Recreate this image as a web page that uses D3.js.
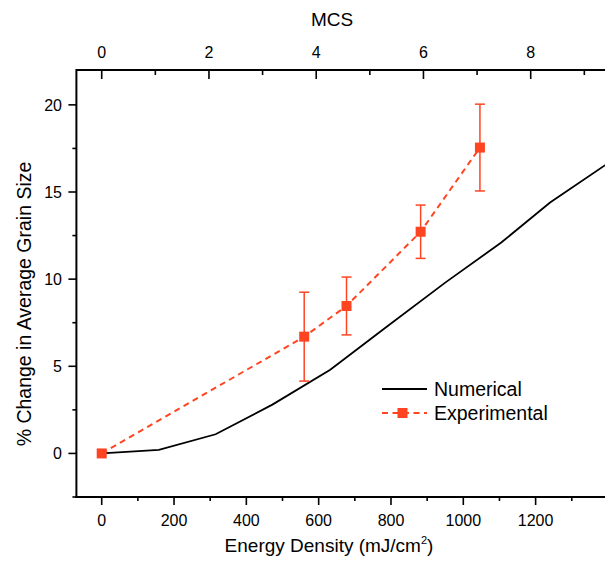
<!DOCTYPE html>
<html>
<head>
<meta charset="utf-8">
<script src="https://cdn.jsdelivr.net/npm/d3@7"></script>
<style>
  body { margin: 0; background: #fff; }
  svg { display: block; font-family: "Liberation Sans", Arial, sans-serif; }
</style>
</head>
<body>
<svg id="chart" width="605" height="566"></svg>
<script>
// Numerical simulation curve
const numEnergy = [0, 158, 315, 472, 632, 790, 950, 1105, 1240, 1400];
const numChange = [0, 0.2, 1.1, 2.8, 4.8, 7.3, 9.8, 12.1, 14.4, 16.65];

// Experimental points with error bars
const expEnergy = [0, 560, 677, 882, 1046];
const expChange = [0, 6.7, 8.46, 12.72, 17.55];
const expError = [0, 2.55, 1.66, 1.53, 2.49];

const xTicks = [0, 200, 400, 600, 800, 1000, 1200];
const mcsTicks = [0, 2, 4, 6, 8];
const yTicks = [0, 5, 10, 15, 20];
const energyPerMcs = 148.3;

const orange = "#ff4422";
const svg = d3.select("#chart");

const x = d3.scaleLinear().domain([-70, 1450]).range([76.4, 101.7 + 0.3616 * 1450]);
const xMcs = d3.scaleLinear()
    .domain(x.domain().map(d => d / energyPerMcs))
    .range(x.range());
const y = d3.scaleLinear().domain([-2.5, 22]).range([497, 70]);

const [plotLeft, plotRight] = x.range();
const [plotBottom, plotTop] = y.range();

// frame lines
svg.append("line").attr("x1", plotLeft).attr("x2", plotRight).attr("y1", plotTop).attr("y2", plotTop)
    .attr("stroke", "#000").attr("stroke-width", 2);
svg.append("line").attr("x1", plotLeft - 1).attr("x2", plotRight).attr("y1", plotBottom).attr("y2", plotBottom)
    .attr("stroke", "#000").attr("stroke-width", 2);
svg.append("line").attr("x1", plotLeft).attr("x2", plotLeft).attr("y1", plotTop - 1).attr("y2", plotBottom + 1)
    .attr("stroke", "#000").attr("stroke-width", 2);

// bottom axis ticks (outward)
const xMinor = d3.range(100, 1450, 200);
svg.append("g").selectAll("line")
    .data(xTicks.map(v => ({v, len: 8})).concat(xMinor.map(v => ({v, len: 4}))))
    .join("line")
    .attr("x1", d => x(d.v)).attr("x2", d => x(d.v))
    .attr("y1", plotBottom).attr("y2", d => plotBottom + d.len)
    .attr("stroke", "#000").attr("stroke-width", 1.6);
svg.append("g").selectAll("text")
    .data(xTicks)
    .join("text")
    .attr("x", d => x(d)).attr("y", 525.5)
    .attr("text-anchor", "middle")
    .attr("font-size", "16px")
    .text(d => d);

// top axis (MCS), ticks inward
const mcsMinor = [1, 3, 5, 7, 9];
svg.append("g").selectAll("line")
    .data(mcsTicks.map(v => ({v, len: 9})).concat(mcsMinor.map(v => ({v, len: 5}))))
    .join("line")
    .attr("x1", d => xMcs(d.v)).attr("x2", d => xMcs(d.v))
    .attr("y1", plotTop).attr("y2", d => plotTop + d.len)
    .attr("stroke", "#000").attr("stroke-width", 1.6);
svg.append("g").selectAll("text")
    .data(mcsTicks)
    .join("text")
    .attr("x", d => xMcs(d)).attr("y", 58)
    .attr("text-anchor", "middle")
    .attr("font-size", "16px")
    .text(d => d);

// left axis ticks (outward)
const yMinor = [-2.5, 2.5, 7.5, 12.5, 17.5];
svg.append("g").selectAll("line")
    .data(yTicks.map(v => ({v, len: 8})).concat(yMinor.map(v => ({v, len: 4}))))
    .join("line")
    .attr("x1", plotLeft).attr("x2", d => plotLeft - d.len)
    .attr("y1", d => y(d.v)).attr("y2", d => y(d.v))
    .attr("stroke", "#000").attr("stroke-width", 1.6);
svg.append("g").selectAll("text")
    .data(yTicks)
    .join("text")
    .attr("x", 62).attr("y", d => y(d) + 5.8)
    .attr("text-anchor", "end")
    .attr("font-size", "16px")
    .text(d => d);

// titles
svg.append("text")
    .attr("x", 332).attr("y", 25.5)
    .attr("text-anchor", "middle")
    .attr("font-size", "19px")
    .text("MCS");

const xTitle = svg.append("text")
    .attr("x", 329).attr("y", 552)
    .attr("text-anchor", "middle")
    .attr("font-size", "19px");
xTitle.append("tspan").text("Energy Density (mJ/cm");
xTitle.append("tspan").attr("font-size", "11px").attr("dy", -8).text("2");
xTitle.append("tspan").attr("dy", 8).text(")");

svg.append("text")
    .attr("transform", "translate(31,304) rotate(-90)")
    .attr("text-anchor", "middle")
    .attr("font-size", "19.5px")
    .text("% Change in Average Grain Size");

// numerical curve
const numData = numEnergy.map((e, i) => [e, numChange[i]]);
svg.append("path")
    .datum(numData)
    .attr("fill", "none")
    .attr("stroke", "#000")
    .attr("stroke-width", 1.8)
    .attr("d", d3.line().x(d => x(d[0])).y(d => y(d[1])));

// experimental
const expData = expEnergy.map((e, i) => ({e, v: expChange[i], err: expError[i]}));
svg.append("path")
    .datum(expData)
    .attr("fill", "none")
    .attr("stroke", orange)
    .attr("stroke-width", 2)
    .attr("stroke-dasharray", "6,4.5")
    .attr("d", d3.line().x(d => x(d.e)).y(d => y(d.v)));

const bars = svg.append("g").selectAll("g")
    .data(expData.filter(d => d.err > 0))
    .join("g")
    .attr("stroke", orange)
    .attr("stroke-width", 1.5);
bars.append("line")
    .attr("x1", d => x(d.e)).attr("x2", d => x(d.e))
    .attr("y1", d => y(d.v + d.err)).attr("y2", d => y(d.v - d.err));
bars.append("line")
    .attr("x1", d => x(d.e) - 5).attr("x2", d => x(d.e) + 5)
    .attr("y1", d => y(d.v + d.err)).attr("y2", d => y(d.v + d.err));
bars.append("line")
    .attr("x1", d => x(d.e) - 5).attr("x2", d => x(d.e) + 5)
    .attr("y1", d => y(d.v - d.err)).attr("y2", d => y(d.v - d.err));

svg.append("g").selectAll("rect")
    .data(expData)
    .join("rect")
    .attr("x", d => x(d.e) - 5).attr("y", d => y(d.v) - 5)
    .attr("width", 10).attr("height", 10)
    .attr("fill", orange);

// legend
const legend = svg.append("g");
legend.append("line")
    .attr("x1", 382).attr("x2", 427).attr("y1", 389).attr("y2", 389)
    .attr("stroke", "#000").attr("stroke-width", 1.8);
legend.append("text")
    .attr("x", 434).attr("y", 395.5)
    .attr("font-size", "19.5px")
    .text("Numerical");
legend.append("line")
    .attr("x1", 382).attr("x2", 427).attr("y1", 413).attr("y2", 413)
    .attr("stroke", orange).attr("stroke-width", 2)
    .attr("stroke-dasharray", "6,4.5");
legend.append("rect")
    .attr("x", 397.5).attr("y", 408).attr("width", 10).attr("height", 10)
    .attr("fill", orange);
legend.append("text")
    .attr("x", 434).attr("y", 419.5)
    .attr("font-size", "19.5px")
    .text("Experimental");
</script>
</body>
</html>
